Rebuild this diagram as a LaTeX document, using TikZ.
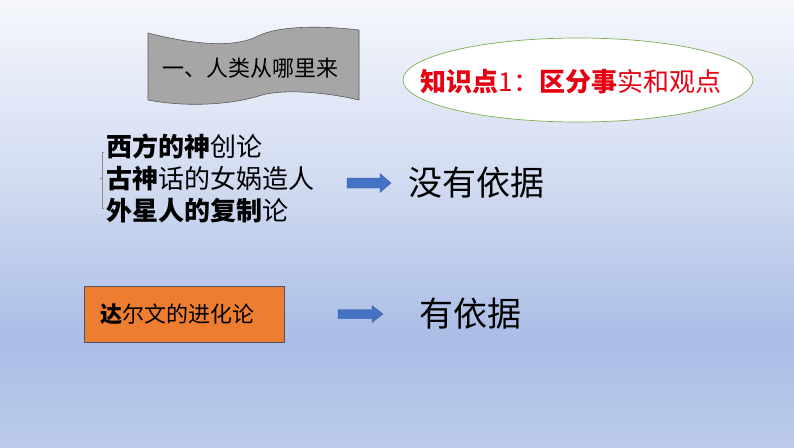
\documentclass[tikz,border=0pt]{standalone}
\usepackage{fontspec}
\setmainfont{Noto Sans CJK SC}
\usetikzlibrary{shapes.geometric,calc}
\definecolor{bgtop}{HTML}{F5F7FC}
\definecolor{bgmid}{HTML}{CDD8F0}
\definecolor{bglow}{HTML}{AABDE6}
\definecolor{bgbot}{HTML}{BCCBEA}
\definecolor{bannergray}{HTML}{A6A6A6}
\definecolor{bannerline}{HTML}{5A5A5A}
\definecolor{ellgreen}{HTML}{7DAF4E}
\definecolor{kpred}{HTML}{E60012}
\definecolor{arrowblue}{HTML}{4472C4}
\definecolor{darwinorange}{HTML}{ED7D31}
\definecolor{boxline}{HTML}{4A5568}
\definecolor{brkgray}{HTML}{8C8C8C}
\tikzset{
  blockarrow/.style={fill=arrowblue, draw=arrowblue!80!black, line width=0.3pt},
  plaintext/.style={inner sep=0pt, text=black},
}
\begin{document}
\begin{tikzpicture}[x=1pt,y=-1pt]
\useasboundingbox (0,0) rectangle (794,447);
% background
\fill[top color=bgtop,bottom color=bgmid] (0,0) rectangle (794,201);
\fill[top color=bgmid,bottom color=bglow] (0,200) rectangle (794,341);
\fill[top color=bglow,bottom color=bgbot] (0,340) rectangle (794,447);
% wave banner
\filldraw[fill=bannergray, draw=bannerline, line width=0.6pt]
  (148,33) .. controls (195,45) and (235,48) .. (258,36)
  .. controls (280,25) and (325,26) .. (359,30)
  -- (359,100) .. controls (325,92) and (285,89) .. (262,95)
  .. controls (235,104) and (190,108) .. (148,100) -- cycle;
\node[plaintext, font=\fontsize{22}{26}\selectfont] (title) at (250,68) {一、人类从哪里来};
% knowledge point ellipse
\node[ellipse, draw=ellgreen, fill=white, line width=0.7pt, minimum width=350pt, minimum height=84pt, inner sep=0pt] (kp) at (578,80) {};
\node[plaintext, text=kpred, font=\fontsize{26}{30}\selectfont] (kptext) at (571,82) {\textbf{知识点}1：\textbf{区分事}实和观点};
% list of myths
\node[plaintext, anchor=west, align=left, font=\fontsize{26}{32}\selectfont] (list) at (106,178)
  {\textbf{西方的神}创论\\\textbf{古神}话的女娲造人\\\textbf{外星人的复制}论};
\coordinate (brk) at ($(list.west)+(-4,0)$);
\draw[brkgray, line width=0.5pt] ($(brk)+(2,-26)$) -- ($(brk)+(0,-26)$) -- ($(brk)+(0,30)$) -- ($(brk)+(2,30)$);
\draw[brkgray, line width=0.5pt] (brk) -- ($(brk)+(-2,0)$);
% arrow 1 and result
\coordinate (a1) at (347,183);
\filldraw[blockarrow] ($(a1)+(0,-5)$) -- ($(a1)+(33,-5)$) -- ($(a1)+(33,-9.5)$) -- ($(a1)+(44,0)$)
  -- ($(a1)+(33,9.5)$) -- ($(a1)+(33,5)$) -- ($(a1)+(0,5)$) -- cycle;
\node[plaintext, anchor=west, font=\fontsize{34}{40}\selectfont] (nobasis) at (408,183) {没有依据};
% Darwin box
\node[draw=boxline, fill=darwinorange, line width=0.8pt, minimum width=200pt, minimum height=56pt, inner xsep=15.5pt, text width=169pt, align=left, font=\fontsize{22}{26}\selectfont] (darwin) at (184.5,314) {\textbf{达}尔文的进化论};
% arrow 2 and result
\coordinate (a2) at (338,314);
\filldraw[blockarrow] ($(a2)+(0,-4.5)$) -- ($(a2)+(34,-4.5)$) -- ($(a2)+(34,-8.5)$) -- ($(a2)+(45,0)$)
  -- ($(a2)+(34,8.5)$) -- ($(a2)+(34,4.5)$) -- ($(a2)+(0,4.5)$) -- cycle;
\node[plaintext, anchor=west, font=\fontsize{34}{40}\selectfont] (basis) at (419,314) {有依据};
\end{tikzpicture}
\end{document}
